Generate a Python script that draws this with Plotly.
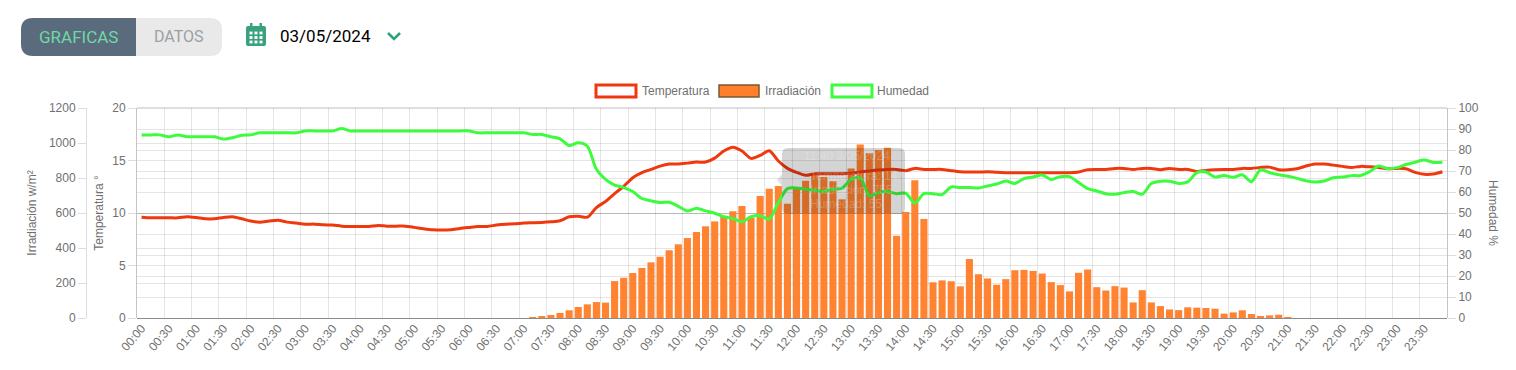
import plotly.graph_objects as go

W, H = 1516, 370
times = [f"{h:02d}:{m:02d}" for h in range(24) for m in (0, 10, 20, 30, 40, 50)]
tick_labels = times[::3]

irradiacion = [0] * 43 + [
    2, 8, 17, 29, 44, 63, 78, 91, 88, 211,
    230, 257, 286, 318, 350, 387, 421, 457, 491, 524,
    552, 581, 610, 640, 573, 697, 739, 755, 653, 739,
    785, 825, 806, 781, 678, 855, 992, 941, 960, 973,
    470, 606, 787, 566, 204, 215, 210, 181, 337, 250,
    226, 190, 222, 273, 275, 269, 254, 205, 188, 152,
    258, 277, 176, 157, 182, 174, 89, 159, 89, 68,
    49, 45, 61, 59, 57, 53, 25, 32, 44, 23,
    9, 15, 19, 2,
] + [0] * 17

temperatura = [
    9.60, 9.54, 9.54, 9.54, 9.54, 9.64, 9.57, 9.45, 9.45, 9.57, 9.64, 9.45,
    9.23, 9.13, 9.23, 9.32, 9.13, 9.04, 8.94, 8.94, 8.88, 8.85, 8.75, 8.72,
    8.72, 8.72, 8.82, 8.75, 8.75, 8.75, 8.63, 8.50, 8.40, 8.37, 8.40, 8.53,
    8.63, 8.72, 8.72, 8.85, 8.94, 8.97, 9.04,
    9.07, 9.10, 9.16, 9.26, 9.64, 9.70, 9.60, 10.52, 11.10, 11.85, 12.54,
    13.36, 13.84, 14.15, 14.47, 14.66, 14.66, 14.75, 14.85, 14.85, 15.23,
    15.90, 16.27, 15.90, 15.20, 15.48, 15.92, 14.95, 14.25, 13.87, 13.59,
    13.74, 13.74, 13.74, 13.74, 13.78, 13.90, 14.00, 14.09, 14.15, 14.15,
    14.03, 14.25, 14.15, 14.15, 14.15, 14.03, 13.93, 13.90, 13.90, 13.93,
    13.87, 13.84, 13.84, 13.84, 13.84, 13.84, 13.84, 13.84, 13.84, 13.90,
    14.12, 14.15, 14.15, 14.25, 14.25, 14.15, 14.25, 14.25, 14.12, 14.25,
    14.15, 14.15, 13.96, 14.06, 14.12, 14.15, 14.15, 14.25, 14.25, 14.34,
    14.37, 14.12, 14.12, 14.21, 14.47, 14.66, 14.66, 14.56, 14.44, 14.34,
    14.44, 14.40, 14.34, 14.21, 14.25, 14.21, 13.87, 13.68, 13.71, 13.93,
]

humedad = [
    87.2, 87.2, 87.2, 86.3, 87.2, 86.3, 86.3, 86.3, 86.3, 85.2, 85.8, 87.0,
    87.2, 88.2, 88.2, 88.2, 88.2, 88.2, 89.1, 89.1, 89.1, 89.1, 90.2, 89.1,
    89.1, 89.1, 89.1, 89.1, 89.1, 89.1, 89.1, 89.1, 89.1, 89.1, 89.1, 89.1,
    89.1, 88.2, 88.2, 88.2, 88.2, 88.2, 88.2,
    87.4, 87.4, 86.3, 85.3, 82.1, 83.4, 81.8, 70.8, 66.0, 63.3, 62.1,
    60.2, 56.9, 55.8, 55.0, 55.1, 53.2, 50.9, 52.3, 51.0, 49.9,
    48.2, 47.4, 45.8, 48.2, 48.7, 47.1, 55.0, 61.6, 61.9, 61.3,
    60.8, 60.3, 61.3, 61.8, 66.0, 66.8, 58.1, 59.7, 60.2, 59.2,
    59.4, 54.7, 59.2, 59.2, 58.8, 62.4, 62.1, 62.1, 61.9, 62.9,
    63.8, 65.2, 64.1, 66.4, 67.1, 68.1, 66.0, 67.3, 67.3, 64.5,
    61.6, 60.5, 59.2, 58.9, 59.7, 60.2, 58.9, 64.0, 65.1, 65.1,
    64.1, 64.8, 69.2, 69.5, 67.1, 67.9, 67.0, 68.2, 64.9, 70.6,
    69.2, 68.2, 67.5, 66.5, 65.4, 64.8, 65.2, 66.8, 67.1, 67.8,
    67.9, 69.7, 72.4, 71.1, 71.6, 73.1, 74.2, 75.2, 74.1, 74.2,
]

RED = "#f0380f"
ORANGE = "#ff7f2a"
GREEN = "#3dfb3d"
GRID = "rgba(0,0,0,0.1)"
TXT = "#707070"
SANS = "Liberation Sans"


def px(x):
    return x / W


def py(y):
    return 1 - y / H


idx = list(range(len(times)))
fig = go.Figure()
fig.add_trace(go.Bar(x=idx, y=irradiacion, name="Irradiación", yaxis="y",
                     marker=dict(color=ORANGE, line=dict(width=0)), opacity=0.97))
fig.add_trace(go.Scatter(x=idx, y=temperatura, name="Temperatura", yaxis="y2", mode="lines",
                         line=dict(color=RED, width=3, shape="spline", smoothing=0.8)))
fig.add_trace(go.Scatter(x=idx, y=humedad, name="Humedad", yaxis="y3", mode="lines",
                         line=dict(color=GREEN, width=3, shape="spline", smoothing=0.8)))

tick_font = dict(family=SANS, size=12, color=TXT)
title_font = dict(family=SANS, size=12, color=TXT)
NOLINE = dict(width=0)


def rect(x0, y0, x1, y1, line=NOLINE, **kw):
    return dict(type="rect", xref="paper", yref="paper", x0=px(x0), x1=px(x1),
                y0=py(y0), y1=py(y1), layer="above", line=line, **kw)


def path(d, line=NOLINE, **kw):
    return dict(type="path", xref="paper", yref="paper", path=d, layer="above", line=line, **kw)


def P(x, y):
    return f"{px(x):.5f},{py(y):.5f}"


def rounded(x0, y0, x1, y1, rl, rr):
    return (f"M{P(x0 + rl, y0)} L{P(x1 - rr, y0)} Q{P(x1, y0)} {P(x1, y0 + rr)} "
            f"L{P(x1, y1 - rr)} Q{P(x1, y1)} {P(x1 - rr, y1)} L{P(x0 + rl, y1)} "
            f"Q{P(x0, y1)} {P(x0, y1 - rl)} L{P(x0, y0 + rl)} Q{P(x0, y0)} {P(x0 + rl, y0)} Z")


ICON = "#3aa17e"
shapes = [
    # tabs
    path(rounded(21, 18, 222, 56, 12, 12), fillcolor="#e9e9e9"),
    path(rounded(21, 18, 136, 56, 12, 0), fillcolor="#5a6b7d"),
    # calendar icon
    path(rounded(246, 26, 266, 46, 2, 2), fillcolor=ICON),
    rect(250, 23, 252.5, 28, fillcolor=ICON),
    rect(259.5, 23, 262, 28, fillcolor=ICON),
]
for cy in (33, 37.5, 42):
    for cx in (249.5, 254.5, 259.5):
        shapes.append(rect(cx, cy - 1.4, cx + 3, cy + 1.4, fillcolor="white"))
shapes += [
    path(f"M{P(388, 33)} L{P(394, 39)} L{P(400, 33)}", line=dict(color="#2fa27a", width=2.6)),
    # legend boxes
    rect(596, 85, 636, 97, fillcolor="white", line=dict(color=RED, width=3)),
    rect(719, 85, 759, 97, fillcolor=ORANGE, line=dict(color="#7a5a30", width=1.5)),
    rect(832, 85, 872, 97, fillcolor="white", line=dict(color=GREEN, width=3)),
    # faded tooltip
    path(rounded(782, 148, 905, 214, 6, 6), fillcolor="rgba(0,0,0,0.17)"),
    path(f"M{P(782, 174)} L{P(777, 180)} L{P(782, 186)} Z", fillcolor="rgba(0,0,0,0.12)"),
    # top edge and baseline of the plot
    dict(type="line", xref="paper", yref="paper", x0=px(137), x1=px(1447), y0=py(318.5), y1=py(318.5),
         line=dict(color="#8a8a8a", width=1), layer="below"),
    dict(type="line", xref="paper", yref="paper", x0=px(137), x1=px(1447), y0=py(108), y1=py(108),
         line=dict(color="#bdbdbd", width=1), layer="below"),
]


def note(x, y, text, color=TXT, size=12, family=SANS, anchor="left", angle=0):
    return dict(xref="paper", yref="paper", x=px(x), y=py(y), text=text, showarrow=False,
                xanchor=anchor, yanchor="middle", align=anchor, textangle=angle,
                font=dict(color=color, size=size, family=family))


FAINT = "rgba(255,255,255,0.22)"
annotations = [
    note(78.5, 37, "GRAFICAS", "#6fd8a5", 17, "Roboto", "center"),
    note(179, 37, "DATOS", "#9aa0a6", 16, "Roboto", "center"),
    note(278, 36, "03/05/2024", "#000000", 17, "Roboto"),
    note(640, 90.5, "Temperatura"),
    note(763, 90.5, "Irradiación"),
    note(875, 90.5, "Humedad"),
    note(802, 156, "11:40 3/05/2024", FAINT, 12),
    note(808, 176, "Temperatura: 14.9", FAINT, 12),
    note(808, 190, "Irradiación: 755", FAINT, 12),
    note(808, 204, "Humedad: 55", FAINT, 12),
    note(1493, 213, "Humedad %", anchor="center", angle=90),
]

fig.update_layout(
    width=W, height=H, paper_bgcolor="white", plot_bgcolor="white",
    margin=dict(l=0, r=0, t=0, b=0, autoexpand=False), showlegend=False, bargap=0.22,
    xaxis=dict(domain=[px(137), px(1447)], range=[-0.5, 143.5], tickmode="array",
               tickvals=idx[::3], ticktext=tick_labels, tickangle=-50, showgrid=False,
               ticks="", tickfont=tick_font, zeroline=False, showline=False, automargin=False,
               minor=dict(tick0=-0.5, dtick=3, showgrid=True, gridcolor=GRID, gridwidth=1, ticks="")),
    yaxis=dict(domain=[py(318), py(108)], range=[0, 1200], dtick=200, anchor="free",
               position=px(86), side="left", showgrid=True, gridcolor=GRID, zeroline=False, automargin=False,
               showline=True, linecolor="#dddddd", ticks="outside", ticklen=8, tickcolor="#dddddd",
               tickfont=tick_font, title=dict(text="Irradiación w/m²", font=title_font, standoff=8)),
    yaxis2=dict(domain=[py(318), py(108)], range=[0, 20], dtick=5, overlaying="y", anchor="x",
                side="left", showgrid=True, gridcolor=GRID, zeroline=False, automargin=False,
                showline=True, linecolor="#c4c4c4", ticks="outside", ticklen=8, tickcolor="#dddddd",
                tickfont=tick_font, title=dict(text="Temperatura °", font=title_font, standoff=6)),
    yaxis3=dict(domain=[py(318), py(108)], range=[0, 100], dtick=10, overlaying="y", anchor="x",
                side="right", showgrid=True, gridcolor=GRID, zeroline=False, automargin=False,
                showline=True, linecolor="#c4c4c4", ticks="outside", ticklen=8, tickcolor="#dddddd",
                tickfont=tick_font),
    shapes=shapes, annotations=annotations,
)

fig.write_html("out.html", post_script="document.body.style.margin='0';document.body.style.overflow='hidden';",
               config=dict(displayModeBar=False))
